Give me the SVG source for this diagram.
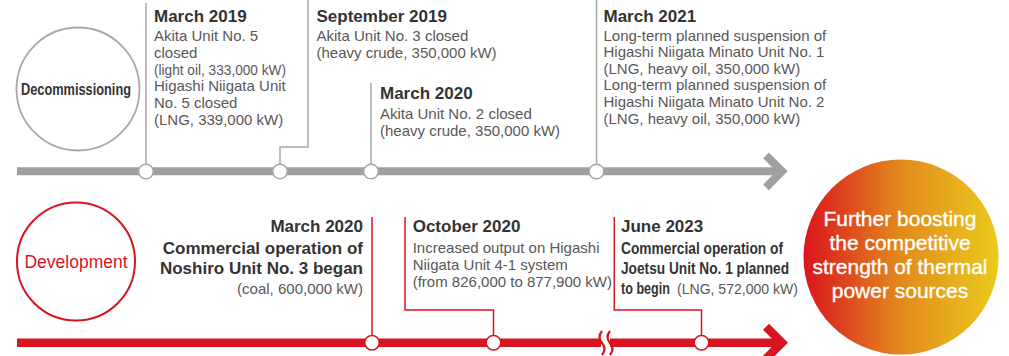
<svg xmlns="http://www.w3.org/2000/svg" width="1009" height="356" viewBox="0 0 1009 356">
<defs>
<linearGradient id="g" x1="0" y1="0" x2="1" y2="0">
<stop offset="0" stop-color="#da141e"/>
<stop offset="0.5" stop-color="#e28a1c"/>
<stop offset="1" stop-color="#eacb1c"/>
</linearGradient>
<style>
text{font-family:"Liberation Sans",Arial,sans-serif}
.t{font-size:17px;font-weight:bold;fill:#333}
.b{font-size:15px;fill:#595757}
.bb{font-size:16px;font-weight:bold;fill:#333}
.gl{fill:none;stroke:#a8a8a8;stroke-width:1.5}
.rl{fill:none;stroke:#d7141f;stroke-width:1.5}
.gd{fill:#fff;stroke:#a8a8a8;stroke-width:1.5}
.rd{fill:#fff;stroke:#d7141f;stroke-width:1.5}
.w{font-size:21px;fill:#fff;stroke:#fff;stroke-width:0.35;text-anchor:middle}
</style>
</defs>
<rect width="1009" height="356" fill="#fff"/>

<g id="timelines">
<line x1="17" y1="171.3" x2="781" y2="171.3" stroke="#a0a0a0" stroke-width="8"/>
<polyline points="766,155.3 782,171.3 766,187.3" fill="none" stroke="#a0a0a0" stroke-width="8"/>
<line x1="17" y1="342.7" x2="781" y2="342.7" stroke="#d7141f" stroke-width="8.5"/>
<polyline points="766,326.7 782,342.7 766,358.7" fill="none" stroke="#d7141f" stroke-width="8.5"/>
<rect x="601" y="336" width="9" height="14" fill="#fff"/>
<path d="M602 331 q-5 6 0 12 q5 6 0 12" fill="none" stroke="#d7141f" stroke-width="2.2"/>
<path d="M610 331 q-5 6 0 12 q5 6 0 12" fill="none" stroke="#d7141f" stroke-width="2.2"/>
</g>

<g id="connectors">
<polyline class="gl" points="146,3 146,164"/>
<polyline class="gl" points="308,0 308,147 280,147 280,164"/>
<polyline class="gl" points="371,83 371,164"/>
<polyline class="gl" points="596.5,0 596.5,164"/>
<polyline class="rl" points="372,217 372,335.5"/>
<polyline class="rl" points="405,217 405,310 493.5,310 493.5,335.5"/>
<polyline class="rl" points="614.3,217 614.3,310 701.5,310 701.5,335.5"/>
</g>

<g id="decommissioning">
<circle cx="78" cy="89" r="61.5" fill="#fff" stroke="#a8a8a8" stroke-width="1.8"/>
<text x="21" y="95" font-size="16" font-weight="bold" fill="#333" textLength="110" lengthAdjust="spacingAndGlyphs">Decommissioning</text>
</g>

<g id="development">
<circle cx="76" cy="261.5" r="59" fill="#fff" stroke="#d7141f" stroke-width="2"/>
<text x="76" y="268" font-size="17.5" fill="#d7141f" text-anchor="middle">Development</text>
</g>

<g id="goal">
<circle cx="901" cy="257" r="97.5" fill="url(#g)"/>
<text class="w" x="900" y="226">Further boosting</text>
<text class="w" x="900" y="250">the competitive</text>
<text class="w" x="900" y="274">strength of thermal</text>
<text class="w" x="900" y="298">power sources</text>
</g>

<g id="m2019">
<circle class="gd" cx="146" cy="171.5" r="7.3"/>
<text class="t" x="154" y="22">March 2019</text>
<text class="b" x="154" y="41">Akita Unit No. 5</text>
<text class="b" x="154" y="57.8">closed</text>
<text class="b" x="154" y="74.6" textLength="132" lengthAdjust="spacingAndGlyphs">(light oil, 333,000 kW)</text>
<text class="b" x="154" y="91.4">Higashi Niigata Unit</text>
<text class="b" x="154" y="108.2">No. 5 closed</text>
<text class="b" x="154" y="125">(LNG, 339,000 kW)</text>
</g>

<g id="s2019">
<circle class="gd" cx="280" cy="171.5" r="7.3"/>
<text class="t" x="316.5" y="22">September 2019</text>
<text class="b" x="316.5" y="41">Akita Unit No. 3 closed</text>
<text class="b" x="316.5" y="57.8">(heavy crude, 350,000 kW)</text>
</g>

<g id="m2020d">
<circle class="gd" cx="371" cy="171.5" r="7.3"/>
<text class="t" x="380" y="98.5">March 2020</text>
<text class="b" x="380" y="118.7">Akita Unit No. 2 closed</text>
<text class="b" x="380" y="135.7">(heavy crude, 350,000 kW)</text>
</g>

<g id="m2021">
<circle class="gd" cx="596.5" cy="171.5" r="7.3"/>
<text class="t" x="603.5" y="22">March 2021</text>
<text class="b" x="603.5" y="40.5">Long-term planned suspension of</text>
<text class="b" x="603.5" y="57.1">Higashi Niigata Minato Unit No. 1</text>
<text class="b" x="603.5" y="73.7">(LNG, heavy oil, 350,000 kW)</text>
<text class="b" x="603.5" y="90.3">Long-term planned suspension of</text>
<text class="b" x="603.5" y="106.9">Higashi Niigata Minato Unit No. 2</text>
<text class="b" x="603.5" y="123.5">(LNG, heavy oil, 350,000 kW)</text>
</g>

<g id="m2020">
<circle class="rd" cx="372" cy="342.7" r="7.3"/>
<text class="t" x="363" y="232.3" text-anchor="end">March 2020</text>
<text class="t" x="363" y="254.3" text-anchor="end">Commercial operation of</text>
<text class="t" x="363" y="274" text-anchor="end">Noshiro Unit No. 3 began</text>
<text class="b" x="363" y="294.3" text-anchor="end">(coal, 600,000 kW)</text>
</g>

<g id="o2020">
<circle class="rd" cx="493.5" cy="342.7" r="7.3"/>
<text class="t" x="412.7" y="232.3">October 2020</text>
<text class="b" x="412.7" y="253.3">Increased output on Higashi</text>
<text class="b" x="412.7" y="270.3">Niigata Unit 4-1 system</text>
<text class="b" x="412.7" y="287.3">(from 826,000 to 877,900 kW)</text>
</g>

<g id="j2023">
<circle class="rd" cx="701.5" cy="342.7" r="7.3"/>
<text class="t" x="621" y="232.3">June 2023</text>
<text class="bb" x="621" y="254.3" textLength="162" lengthAdjust="spacingAndGlyphs">Commercial operation of</text>
<text class="bb" x="621" y="274" textLength="168" lengthAdjust="spacingAndGlyphs">Joetsu Unit No. 1 planned</text>
<text class="bb" x="621" y="294.3" textLength="49" lengthAdjust="spacingAndGlyphs">to begin</text>
<text class="b" x="677" y="294.3" textLength="121" lengthAdjust="spacingAndGlyphs">(LNG, 572,000 kW)</text>
</g>
</svg>
